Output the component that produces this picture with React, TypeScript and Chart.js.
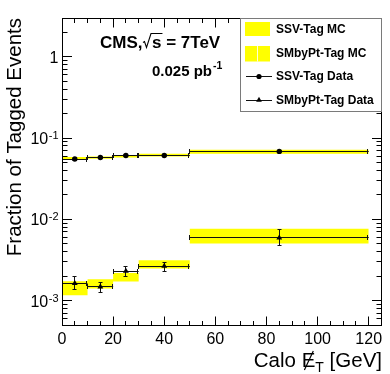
import React, { useEffect, useRef } from "react";
import { Chart, registerables } from "chart.js";

Chart.register(...registerables);

// ---- data ----
const binEdges = [0, 10, 20, 30, 50, 120];
const binCenters = [5, 15, 25, 40, 85];

const ssvMcLo = [0.0535, 0.0556, 0.0577, 0.0593, 0.064];
const ssvMcHi = [0.0583, 0.0593, 0.0617, 0.064, 0.0716];
const smMcLo = [0.00116, 0.00141, 0.00171, 0.00248, 0.00503];
const smMcHi = [0.00173, 0.00183, 0.00219, 0.00314, 0.00762];

const ssvData = [0.0551, 0.0576, 0.061, 0.061, 0.0685];
const ssvErrLo = [0.0015, 0.0015, 0.0015, 0.0015, 0.0015];
const ssvErrHi = [0.0015, 0.0015, 0.0015, 0.0015, 0.0015];
const smData = [0.00163, 0.00148, 0.0023, 0.00265, 0.0059];
const smErrLo = [0.00026, 0.00023, 0.0003, 0.00035, 0.0012];
const smErrHi = [0.00033, 0.00018, 0.00035, 0.00032, 0.0015];

const xTickLabels = [0, 20, 40, 60, 80, 100, 120];
const yDecadeExps = [-3, -2, -1, 0];
const X_MIN = 0;
const X_MAX = 125;
const Y_MIN = 5e-4;
const Y_MAX = 3;

const legendLabels = ["SSV-Tag MC", "SMbyPt-Tag MC", "SSV-Tag Data", "SMbyPt-Tag Data"];
const yTitle = "Fraction of Tagged Events";

const YELLOW = "#ffff00";
const FONT = '"Liberation Sans", Arial, Helvetica, sans-serif';

function stepPoints(vals: number[]) {
  return binEdges.map((x, i) => ({ x, y: vals[Math.min(i, vals.length - 1)] }));
}

const errorBarsByLabel: Record<string, { y: number[]; lo: number[]; hi: number[] }> = {
  "SSV-Tag Data": { y: ssvData, lo: ssvErrLo, hi: ssvErrHi },
  "SMbyPt-Tag Data": { y: smData, lo: smErrLo, hi: smErrHi },
};

const snap = (v: number) => Math.floor(v) + 0.5;

const errorBarPlugin = {
  id: "errorBars",
  beforeDatasetDraw(chart: any, args: any) {
    const ds = chart.data.datasets[args.index];
    const eb = errorBarsByLabel[ds.label];
    if (!eb) return;
    const { ctx, chartArea: ca } = chart;
    const xs = chart.scales.x;
    const ys = chart.scales.y;
    ctx.save();
    ctx.beginPath();
    ctx.rect(ca.left, ca.top, ca.right - ca.left, ca.bottom - ca.top);
    ctx.clip();
    ctx.strokeStyle = "#111";
    ctx.lineWidth = 1;
    eb.y.forEach((v, i) => {
      const px = snap(xs.getPixelForValue(binCenters[i]));
      const py = snap(ys.getPixelForValue(v));
      const x0 = xs.getPixelForValue(binEdges[i]);
      const x1 = xs.getPixelForValue(binEdges[i + 1]);
      const yt = ys.getPixelForValue(v + eb.hi[i]);
      const yb = ys.getPixelForValue(v - eb.lo[i]);
      ctx.beginPath();
      ctx.moveTo(x0, py);
      ctx.lineTo(x1, py);
      ctx.moveTo(snap(x0), py - 2.5);
      ctx.lineTo(snap(x0), py + 2.5);
      ctx.moveTo(snap(x1) - 1, py - 2.5);
      ctx.lineTo(snap(x1) - 1, py + 2.5);
      ctx.moveTo(px, yt);
      ctx.lineTo(px, yb);
      ctx.moveTo(px - 2, snap(yt));
      ctx.lineTo(px + 2, snap(yt));
      ctx.moveTo(px - 2, snap(yb));
      ctx.lineTo(px + 2, snap(yb));
      ctx.stroke();
    });
    ctx.restore();
  },
};

function drawCircle(ctx: CanvasRenderingContext2D, x: number, y: number, r: number) {
  ctx.beginPath();
  ctx.arc(x, y, r, 0, Math.PI * 2);
  ctx.fill();
}
function drawTriangle(ctx: CanvasRenderingContext2D, x: number, y: number, r: number) {
  ctx.beginPath();
  for (let k = 0; k < 3; k++) {
    const a = (k * 2 * Math.PI) / 3;
    const px = x + Math.sin(a) * r;
    const py = y - Math.cos(a) * r;
    if (k === 0) ctx.moveTo(px, py);
    else ctx.lineTo(px, py);
  }
  ctx.closePath();
  ctx.fill();
}

const framePlugin = {
  id: "rootFrame",
  afterDraw(chart: any) {
    const { ctx, chartArea: ca } = chart;
    const xs = chart.scales.x;
    const ys = chart.scales.y;
    const L = snap(ca.left);
    const R = snap(ca.right);
    const T = snap(ca.top);
    const B = snap(ca.bottom);
    ctx.save();
    ctx.strokeStyle = "#000";
    ctx.lineWidth = 1;
    ctx.strokeRect(L, T, R - L, B - T);

    // x ticks
    ctx.beginPath();
    for (let v = X_MIN; v < X_MAX; v += 5) {
      if (v === X_MIN) continue;
      const px = snap(xs.getPixelForValue(v));
      const len = v % 20 === 0 ? 9 : 4.5;
      ctx.moveTo(px, B);
      ctx.lineTo(px, B - len);
      ctx.moveTo(px, T);
      ctx.lineTo(px, T + len);
    }
    // y ticks
    for (let e = -4; e <= 0; e++) {
      for (let k = 1; k <= 9; k++) {
        const v = k * Math.pow(10, e);
        if (v <= Y_MIN || v >= Y_MAX) continue;
        const py = snap(ys.getPixelForValue(v));
        const len = k === 1 ? 9.5 : 5;
        ctx.moveTo(L, py);
        ctx.lineTo(L + len, py);
        ctx.moveTo(R, py);
        ctx.lineTo(R - len, py);
      }
    }
    ctx.stroke();

    // x tick labels
    ctx.fillStyle = "#000";
    ctx.font = `16px ${FONT}`;
    ctx.textAlign = "center";
    ctx.textBaseline = "alphabetic";
    xTickLabels.forEach((v) => {
      ctx.fillText(String(v), xs.getPixelForValue(v), 344);
    });

    // y tick labels
    const xRight = 58.5;
    yDecadeExps.forEach((e) => {
      const py = ys.getPixelForValue(Math.pow(10, e));
      if (e === 0) {
        ctx.font = `16px ${FONT}`;
        ctx.textAlign = "right";
        ctx.fillText("1", xRight, py + 6);
        return;
      }
      const sup = "-" + Math.abs(e);
      ctx.font = `11px ${FONT}`;
      const sw = ctx.measureText(sup).width;
      ctx.textAlign = "left";
      ctx.fillText(sup, xRight - sw, py + 1);
      ctx.font = `16px ${FONT}`;
      ctx.textAlign = "right";
      ctx.fillText("10", xRight - sw - 0.5, py + 6);
    });

    // y title
    ctx.save();
    ctx.translate(21, ca.top);
    ctx.rotate(-Math.PI / 2);
    ctx.font = `20.5px ${FONT}`;
    ctx.textAlign = "right";
    ctx.fillText(yTitle, 0, 0);
    ctx.restore();

    // x title: Calo E(slash)_T [GeV]
    {
      const base = 367;
      ctx.textAlign = "left";
      ctx.font = `20.5px ${FONT}`;
      const w1 = ctx.measureText("Calo ").width;
      const wE = ctx.measureText("E").width;
      const w3 = ctx.measureText(" [GeV]").width;
      ctx.font = `14px ${FONT}`;
      const wT = ctx.measureText("T").width;
      const total = w1 + wE + wT + w3;
      let x = ca.right - total + 0.5;
      ctx.font = `20.5px ${FONT}`;
      ctx.fillText("Calo ", x, base);
      x += w1;
      const ex = x;
      ctx.fillText("E", x, base);
      x += wE;
      ctx.font = `14px ${FONT}`;
      ctx.fillText("T", x, base + 4.7);
      x += wT;
      ctx.font = `20.5px ${FONT}`;
      ctx.fillText(" [GeV]", x, base);
      ctx.beginPath();
      ctx.lineWidth = 1.2;
      ctx.moveTo(ex + wE * 0.2, base + 3);
      ctx.lineTo(ex + wE * 0.85, base - 16);
      ctx.stroke();
    }

    // CMS text
    {
      const base = 47.5;
      let x = 100;
      ctx.textAlign = "left";
      ctx.font = `bold 17px ${FONT}`;
      ctx.fillText("CMS,", x, base);
      x += ctx.measureText("CMS,").width + 0.5;
      // radical
      const sW = ctx.measureText("s").width;
      ctx.beginPath();
      ctx.lineWidth = 1.1;
      ctx.moveTo(x, base - 5);
      ctx.lineTo(x + 1.5, base - 6);
      ctx.lineTo(x + 3.5, base);
      ctx.lineTo(x + 8, base - 14);
      ctx.lineTo(x + 9 + sW + 1, base - 14);
      ctx.stroke();
      x += 9;
      ctx.fillText("s", x, base);
      x += sW;
      ctx.fillText(" = 7TeV", x, base);
    }
    {
      const base = 75.5;
      let x = 152;
      ctx.font = `bold 15px ${FONT}`;
      ctx.fillText("0.025 pb", x, base);
      x += ctx.measureText("0.025 pb").width + 1;
      ctx.font = `bold 10.5px ${FONT}`;
      ctx.fillText("-1", x, base - 7);
    }

    // legend
    {
      const bx = 240.5, by = 18.5, bw = 141, bh = 93;
      ctx.fillStyle = "#fff";
      ctx.fillRect(bx, by, bw, bh);
      ctx.strokeStyle = "#7a7a7a";
      ctx.lineWidth = 1;
      ctx.strokeRect(bx, by, bw, bh);
      const rows = [29, 53.5, 76.5, 100];
      // MC boxes
      ctx.fillStyle = YELLOW;
      ctx.fillRect(245, 22, 25, 14);
      ctx.fillRect(245, 46, 25, 15.5);
      ctx.strokeStyle = "rgba(255,255,255,0.85)";
      ctx.beginPath();
      ctx.moveTo(257.5, 46);
      ctx.lineTo(257.5, 61.5);
      ctx.stroke();
      // data lines
      ctx.strokeStyle = "#111";
      ctx.beginPath();
      ctx.moveTo(246, snap(rows[2]));
      ctx.lineTo(272, snap(rows[2]));
      ctx.moveTo(246, snap(rows[3]));
      ctx.lineTo(272, snap(rows[3]));
      ctx.stroke();
      ctx.fillStyle = "#000";
      drawCircle(ctx, 259, snap(rows[2]), 2.6);
      drawTriangle(ctx, 259, snap(rows[3]) - 0.5, 3.3);
      ctx.font = `bold 12px ${FONT}`;
      ctx.textAlign = "left";
      ctx.textBaseline = "middle";
      legendLabels.forEach((t, i) => ctx.fillText(t, 276, rows[i] + 0.5));
    }
    ctx.restore();
  },
};

export default function App() {
  const canvasRef = useRef<HTMLCanvasElement | null>(null);

  useEffect(() => {
    if (!canvasRef.current) return;
    const chart = new Chart(canvasRef.current, {
      type: "line",
      data: {
        datasets: [
          {
            label: "SSV-Tag MC hi",
            data: stepPoints(ssvMcHi),
            stepped: "before",
            borderColor: "rgba(0,0,0,0)",
            borderWidth: 1,
            pointRadius: 0,
            backgroundColor: YELLOW,
            fill: "+1",
            order: 10,
          },
          {
            label: "SSV-Tag MC lo",
            data: stepPoints(ssvMcLo),
            stepped: "before",
            borderColor: "rgba(0,0,0,0)",
            borderWidth: 1,
            pointRadius: 0,
            fill: false,
            order: 10,
          },
          {
            label: "SMbyPt-Tag MC hi",
            data: stepPoints(smMcHi),
            stepped: "before",
            borderColor: "rgba(0,0,0,0)",
            borderWidth: 1,
            pointRadius: 0,
            backgroundColor: YELLOW,
            fill: "+1",
            order: 10,
          },
          {
            label: "SMbyPt-Tag MC lo",
            data: stepPoints(smMcLo),
            stepped: "before",
            borderColor: "rgba(0,0,0,0)",
            borderWidth: 1,
            pointRadius: 0,
            fill: false,
            order: 10,
          },
          {
            label: "SSV-Tag Data",
            data: binCenters.map((x, i) => ({ x, y: ssvData[i] })),
            showLine: false,
            pointStyle: "circle",
            pointRadius: 2.7,
            pointBackgroundColor: "#000",
            pointBorderWidth: 0,
            borderColor: "#000",
            order: 1,
          },
          {
            label: "SMbyPt-Tag Data",
            data: binCenters.map((x, i) => ({ x, y: smData[i] })),
            showLine: false,
            pointStyle: "triangle",
            pointRadius: 3.4,
            pointBackgroundColor: "#000",
            pointBorderWidth: 0,
            borderColor: "#000",
            order: 1,
          },
        ],
      },
      options: {
        animation: false,
        responsive: false,
        devicePixelRatio: 1,
        events: [],
        layout: { padding: { left: 62, right: 8.5, top: 18, bottom: 49 } },
        plugins: {
          legend: { display: false },
          tooltip: { enabled: false },
        },
        scales: {
          x: { type: "linear", min: X_MIN, max: X_MAX, display: false },
          y: { type: "logarithmic", min: Y_MIN, max: Y_MAX, display: false },
        },
      },
      plugins: [errorBarPlugin, framePlugin],
    } as any);
    return () => chart.destroy();
  }, []);

  return (
    <div style={{ position: "absolute", left: 0, top: 0, width: 390, height: 374, background: "#fff" }}>
      <canvas ref={canvasRef} width={390} height={374} style={{ display: "block" }} />
    </div>
  );
}
